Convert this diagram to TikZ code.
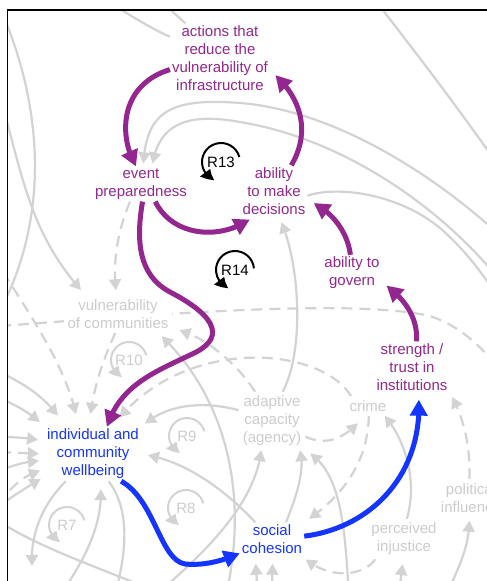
\documentclass[tikz,border=0pt]{standalone}
\usepackage{fontspec}
\setmainfont{Liberation Sans}
\usetikzlibrary{arrows.meta,bending}
\pgfdeclarelayer{background}
\pgfsetlayers{background,main}
\definecolor{cldpurple}{RGB}{147,39,143}
\definecolor{cldblue}{RGB}{20,52,255}
\definecolor{linkgray}{RGB}{211,211,211}
\definecolor{textgray}{RGB}{204,204,204}
\begin{document}
\begin{tikzpicture}[x=1pt,y=-1pt,
  lbl/.style={align=center,font=\fontsize{15}{18}\selectfont},
  keyvar/.style={lbl,inner sep=2pt,text=cldpurple},
  bluevar/.style={lbl,inner sep=2pt,text=cldblue},
  greyvar/.style={lbl,inner sep=4pt,text=textgray,fill=white},
  loopname/.style={lbl,inner sep=0pt},
  keylink/.style={line width=5pt,draw=cldpurple,-{Triangle[length=16pt,width=17pt]}},
  bluelink/.style={keylink,draw=cldblue},
  greyline/.style={line width=2.2pt,draw=linkgray},
  greylink/.style={greyline,-{Triangle[length=11pt,width=12pt]}},
  greydash/.style={greylink,dash pattern=on 11pt off 7pt},
  greydashline/.style={greyline,dash pattern=on 11pt off 7pt},
  looparrow/.style={line width=2pt,-{Triangle[length=12pt,width=12pt,bend]}},
  greyloop/.style={looparrow,draw=linkgray},
]
\useasboundingbox (0,0) rectangle (487,581);

% ---------- variables ----------
\node[keyvar] (act) at (220,58) {actions that\\reduce the\\vulnerability of\\infrastructure};
\node[keyvar] (evp) at (141,184) {event\\preparedness};
\node[keyvar] (dec) at (274,191) {ability\\to make\\decisions};
\node[keyvar] (gov) at (352,273) {ability to\\govern};
\node[keyvar] (str) at (412,367) {strength /\\trust in\\institutions};
\node[bluevar] (wel) at (93,454) {individual and\\community\\wellbeing};
\node[bluevar] (coh) at (272,539) {social\\cohesion};
\node[greyvar] (vco) at (118,314) {vulnerability\\of communities};
\node[greyvar] (ada) at (272,421) {adaptive\\capacity\\(agency)};
\node[greyvar] (cri) at (368,406) {crime};
\node[greyvar] (inj) at (404,539) {perceived\\injustice};
\node[greyvar] (pol) at (471,498) {political\\influence};

% loop labels
\node[loopname] (r13) at (221,162) {R13};
\node[loopname] (r14) at (235,270) {R14};
\node[loopname,text=textgray] (r10) at (129,360) {R10};
\node[loopname,text=textgray] (r9) at (187,436) {R9};
\node[loopname,text=textgray] (r8) at (186,508) {R8};
\node[loopname,text=textgray] (r7) at (67,525) {R7};

% free ends of links that leave the frame
\coordinate (t1) at (105,0);   \coordinate (t2) at (160,0);
\coordinate (t3) at (375,0);   \coordinate (r5) at (500,168);
\coordinate (r1) at (505,240); \coordinate (r2) at (505,287);
\coordinate (r3) at (500,300); \coordinate (r4) at (505,375);
\coordinate (l1) at (0,326);   \coordinate (l2) at (3,272);
\coordinate (l3) at (0,372);   \coordinate (l4) at (0,398);
\coordinate (l5) at (0,437);   \coordinate (l6) at (0,452);
\coordinate (l7) at (0,470);   \coordinate (l8) at (10,490);
\coordinate (l9) at (0,505);   \coordinate (l10) at (0,522);
\coordinate (l11) at (3,15);   \coordinate (l12) at (3,305);
\coordinate (l13) at (4,110);
\coordinate (oA) at (32,566);  \coordinate (oB) at (60,595);
\coordinate (oC) at (115,595); \coordinate (oD) at (165,595);
\coordinate (oE) at (150,600); \coordinate (b1) at (226,595);
\coordinate (oF) at (349,600); \coordinate (oG) at (444,600);
\coordinate (oH) at (398,600); \coordinate (oI) at (258,600);
\coordinate (oJ) at (272,600);

% ---------- grey background links ----------
\begin{pgfonlayer}{background}
\begin{scope}
\clip (7.5,10) rectangle (487,581);
% top
\draw[greyline] (t1) .. controls (130,15) and (150,28) .. (act.157);
\draw[greyline] (t2) -- (act.135);
\draw[greyline] (t3) .. controls (410,45) and (460,110) .. (r5);
\draw[greylink,shorten >=3pt] (r1) .. controls (430,170) and (330,110) .. (240,103)
      .. controls (165,97) and (146,115) .. (evp.83);
\draw[greylink,shorten >=3pt] (r2) .. controls (450,215) and (350,140) .. (240,122)
      .. controls (185,112) and (158,125) .. (evp.58);
\draw[greyline] (dec.352) .. controls (340,185) and (400,195) .. (440,228)
      .. controls (465,250) and (480,270) .. (r3);
\draw[greylink,shorten >=6pt] (ada.70) .. controls (305,350) and (300,260) .. (dec.281);
% left side
\draw[greyline] (l11) .. controls (35,90) and (55,200) .. (l12);
\draw[greylink,shorten >=7pt] (l13) .. controls (25,190) and (35,240) .. (vco.150);
\draw[greydash,shorten >=5pt] (evp.238) .. controls (118,230) and (112,262) .. (vco.95);
\draw[greydashline] (l1) .. controls (150,315) and (350,298) .. (430,316)
      .. controls (460,326) and (480,345) .. (r4);
\draw[greydash,shorten >=12pt] (cri.150) .. controls (320,345) and (180,335) .. (wel.55);
\draw[greylink,shorten >=5pt] (ada.162) .. controls (200,400) and (165,405) .. (wel.north east);
\draw[greylink,shorten >=5pt] (b1) .. controls (248,500) and (230,400) .. (vco.335);
\draw[greydash,shorten >=7pt] (ada.120) .. controls (238,365) and (205,335) .. (vco.345);
\draw[greydash,shorten >=13pt] (vco.262) .. controls (103,360) and (92,390) .. (wel.98);
\draw[greydash,shorten >=13pt] (l2) .. controls (40,330) and (70,375) .. (wel.118);
\draw[greylink,shorten >=14pt] (l3) .. controls (25,385) and (45,395) .. (wel.135);
% arrows converging on wellbeing from the left
\draw[greylink,shorten >=7pt] (l4) .. controls (15,405) and (30,412) .. (wel.north west);
\draw[greylink,shorten >=7pt] (l5) .. controls (15,437) and (30,438) .. (wel.165);
\draw[greydash,shorten >=6pt] (l6) -- (wel.180);
\draw[greylink,shorten >=6pt] (l7) .. controls (15,465) and (30,460) .. (wel.188);
\draw[greydash,shorten >=5pt] (l8) .. controls (20,480) and (30,472) .. (wel.198);
\draw[greylink,shorten >=5pt] (l9) .. controls (15,495) and (30,485) .. (wel.205);
% bottom left
\draw[greylink] (wel.225) .. controls (42,505) and (30,535) .. (oA);
\draw[greylink,shorten >=8pt] (oB) .. controls (92,550) and (104,515) .. (wel.285);
\draw[greyline] (wel.300) .. controls (130,510) and (127,550) .. (oC);
\draw[greyline] (l10) .. controls (40,548) and (100,568) .. (oD);
% around adaptive capacity and social cohesion
\draw[greylink] (oE) .. controls (215,545) and (255,500) .. (ada.250);
\draw[greylink,shorten >=7pt] (coh.135) .. controls (225,490) and (185,460) .. (wel.east);
\draw[greylink] (coh.50) .. controls (297,495) and (305,470) .. (ada.314);
\draw[greylink,shorten >=6pt] (oF) .. controls (345,520) and (340,470) .. (ada.south east);
\draw[greylink] (inj.82) .. controls (418,480) and (405,440) .. (cri.330);
\draw[greydash,shorten >=6pt] (cri.275) .. controls (368,460) and (345,495) .. (coh.north east);
\draw[greydash,shorten >=10pt] (ada.335) .. controls (325,446) and (345,440) .. (cri.250);
\draw[greydash,shorten >=5pt] (pol.95) .. controls (471,445) and (462,412) .. (str.south east);
\draw[greylink,shorten >=4pt] (oG) .. controls (460,565) and (470,545) .. (pol.265);
\draw[greydash,shorten >=6pt] (inj.215) .. controls (365,575) and (330,582) .. (coh.330);
\draw[greylink,shorten >=5pt] (oH) -- (inj.268);
\draw[greylink,shorten >=8pt] (oI) -- (coh.225);
\draw[greylink,shorten >=8pt] (oJ) -- (coh.272);
% grey loop markers
\draw[greyloop] ([shift={(-15:18)}]r10.center) arc[start angle=-15,end angle=-248,radius=18];
\draw[greyloop] ([shift={(-15:18)}]r9.center) arc[start angle=-15,end angle=-248,radius=18];
\draw[greyloop] ([shift={(-15:18)}]r8.center) arc[start angle=-15,end angle=-248,radius=18];
\draw[greyloop] ([shift={(-15:18)}]r7.center) arc[start angle=-15,end angle=-248,radius=18];
\end{scope}
\end{pgfonlayer}

% ---------- highlighted loops ----------
\draw[keylink] (act.193) .. controls (120,85) and (118,135) .. (evp.106);
\draw[keylink,shorten >=7pt] (dec.56) .. controls (312,130) and (300,95) .. (act.346);
\draw[keylink,shorten >=5pt] (evp.309) .. controls (172,236) and (220,242) .. (dec.232);
\draw[keylink,shorten >=7pt] (gov.95) .. controls (348,235) and (335,212) .. (dec.345);
\draw[keylink,shorten >=6pt] (str.80) .. controls (418,318) and (405,298) .. (gov.343);
\draw[keylink] (evp.275) .. controls (136,240) and (138,275) .. (170,292)
      .. controls (220,318) and (225,340) .. (190,355)
      .. controls (155,372) and (120,385) .. (wel.63);
\draw[bluelink] (wel.316) .. controls (155,500) and (160,560) .. (185,564)
      .. controls (205,566) and (225,560) .. (coh.204);
\draw[bluelink,shorten >=7pt] (coh.5) .. controls (370,528) and (425,475) .. (str.284);

\draw[looparrow] ([shift={(-15:19)}]r13.center) arc[start angle=-15,end angle=-250,radius=19];
\draw[looparrow] ([shift={(-5:19)}]r14.center) arc[start angle=-5,end angle=-250,radius=19];

% frame
\draw[line width=1.6pt] (7.5,590) -- (7.5,10) -- (495,10);
\end{tikzpicture}
\end{document}
